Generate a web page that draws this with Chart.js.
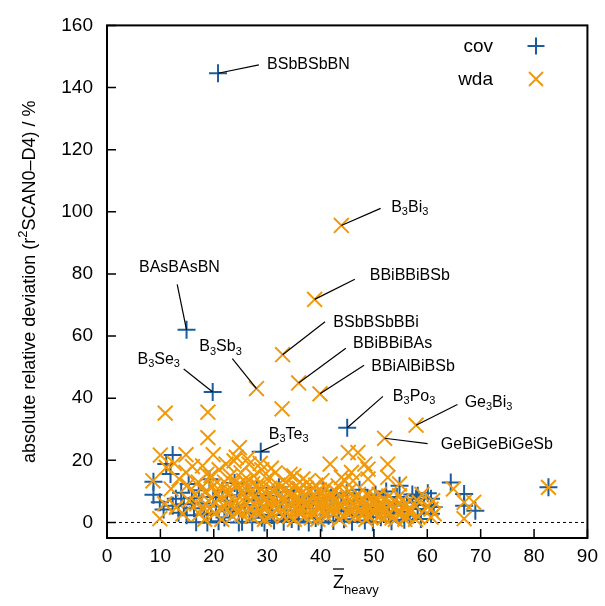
<!DOCTYPE html>
<html>
<head>
<meta charset="utf-8">
<script src="https://cdn.jsdelivr.net/npm/chart.js@4/dist/chart.umd.min.js"></script>
<style>
  body { margin: 0; background: #fff; }
  #wrap { width: 605px; height: 606px; }
</style>
</head>
<body>
<div id="wrap"><canvas id="chart" width="605" height="606"></canvas></div>
<script>
// Scatter of absolute relative deviation vs mean heavy-atom Z

const FONT = '"Liberation Sans", Arial, Helvetica, sans-serif';
const covColor = '#1a5c9e';
const wdaColor = '#f0990a';

const xTicks = [0, 10, 20, 30, 40, 50, 60, 70, 80, 90];
const yTicks = [0, 20, 40, 60, 80, 100, 120, 140, 160];

// [Z_heavy, deviation %]
const covPairs = [
    [20.8, 144.6], [14.9, 62.0], [19.8, 42.0], [45.0, 30.5], [28.8, 22.8], [82.7, 11.3],
    [8.7, 13.1], [8.7, 8.9], [9.9, 6.5], [10.6, 4.2], [11.1, 18.8], [12.3, 21.7], [11.9, 15.6],
    [12.3, 5.4], [12.9, 7.6], [13.4, 3.1], [13.9, 9.6], [14.4, 5.9], [14.9, 2.3], [15.3, 12.4],
    [15.9, 7.8], [16.3, 4.6], [16.7, 0.1], [17.2, 10.4], [17.7, 6.1], [18.2, 2.6], [18.8, 0.0],
    [19.2, 13.9], [19.5, 2.8], [19.9, 8.2], [20.4, 5.1], [20.9, 0.4], [21.6, 10.2], [22.0, 1.6],
    [22.5, 7.0], [23.0, 3.6], [23.5, 4.9], [23.9, 12.7], [24.4, 8.8], [24.7, 0.0], [25.3, 0.2],
    [25.8, 5.6], [26.2, 9.4], [26.7, 3.0], [27.2, 0.1], [27.6, 7.3], [28.1, 11.2], [28.5, 4.4],
    [29.0, 1.5], [29.5, 0.0], [29.9, 8.6], [30.4, 5.2], [30.9, 2.4], [31.3, 0.6], [31.8, 9.7],
    [32.2, 11.3], [32.7, 6.4], [33.1, 0.2], [33.6, 3.7], [34.1, 7.9], [34.6, 1.1], [35.0, 10.2],
    [35.4, 5.0], [35.9, 0.3], [36.4, 8.1], [36.8, 2.9], [37.3, 6.2], [37.8, 0.0], [38.1, 8.6],
    [38.6, 4.3], [39.1, 1.4], [39.6, 7.0], [40.2, 0.0], [40.5, 10.2], [41.0, 5.4], [41.5, 2.2],
    [42.0, 8.0], [42.4, 0.5], [43.0, 8.6], [43.4, 3.6], [43.9, 6.1], [44.4, 1.0], [44.9, 9.4],
    [45.4, 4.6], [45.9, 0.2], [46.4, 6.8], [46.9, 2.6], [47.3, 10.5], [47.8, 5.1], [48.3, 0.6],
    [48.8, 7.7], [49.3, 3.2], [49.8, 0.1], [50.3, 8.9], [50.8, 4.8], [51.3, 1.7], [51.8, 6.6],
    [52.3, 10.0], [52.8, 2.9], [53.3, 0.4], [53.8, 5.5], [54.3, 8.2], [54.8, 11.8], [55.2, 3.4],
    [55.7, 0.9], [56.2, 6.4], [56.7, 2.1], [57.2, 9.0], [57.9, 7.6], [58.2, 8.6], [58.2, 4.3],
    [58.8, 1.1], [59.4, 5.6], [60.1, 9.4], [60.7, 7.6], [60.7, 2.8], [61.2, 5.0], [64.4, 12.9],
    [66.9, 9.2], [66.9, 5.4], [69.0, 3.8]
];

const wdaPairs = [
    [43.9, 95.6], [38.9, 71.8], [32.9, 54.0], [35.9, 44.9], [39.9, 41.4], [28.0, 43.1],
    [57.9, 31.3], [52.0, 27.1], [82.7, 11.3], [10.9, 35.2], [18.9, 35.5], [18.9, 27.3],
    [32.8, 36.6], [24.8, 24.1], [45.2, 22.5], [47.0, 22.5],
    [8.6, 13.4], [9.9, 1.2], [10.0, 21.7], [10.8, 6.0], [11.1, 17.7], [12.0, 10.8], [12.6, 19.0],
    [13.0, 4.9], [13.5, 14.0], [14.2, 2.8], [14.8, 21.8], [14.8, 16.1], [15.4, 7.0], [15.1, 12.0],
    [16.0, 18.0], [16.5, 9.0], [16.8, 6.0], [17.3, 2.8], [17.6, 11.0], [17.9, 18.2], [17.1, 13.0],
    [18.0, 5.0], [18.3, 1.0], [18.5, 10.0], [18.7, 15.5], [19.3, 4.5], [19.5, 15.0], [19.7, 11.5],
    [19.9, 21.8], [19.0, 7.0], [20.1, 12.0], [20.2, 3.0], [20.3, 6.5], [20.6, 9.5], [21.0, 17.0],
    [21.1, 8.0], [21.3, 4.5], [21.5, 1.0], [21.8, 11.0], [22.3, 18.8], [22.0, 13.0], [22.1, 5.0],
    [22.6, 9.0], [22.8, 6.5], [23.0, 10.0], [23.1, 15.0], [23.3, 5.5], [23.5, 2.0], [23.7, 12.5],
    [23.8, 19.8], [24.0, 7.0], [24.2, 21.0], [24.3, 3.5], [24.5, 12.0], [24.6, 6.0], [25.0, 4.0],
    [25.1, 16.0], [25.3, 2.5], [25.5, 9.0], [25.6, 13.5], [25.8, 11.0], [26.0, 13.0], [26.1, 6.0],
    [26.3, 20.5], [26.4, 8.0], [26.6, 18.8], [26.8, 4.0], [27.0, 10.0], [27.1, 2.0], [27.3, 12.5],
    [27.5, 15.0], [27.7, 8.5], [27.8, 5.5], [28.0, 7.0], [28.1, 12.0], [28.3, 2.5], [28.5, 4.0],
    [28.7, 19.0], [28.9, 6.0], [29.0, 17.0], [29.1, 9.0], [29.3, 11.5], [29.5, 1.0], [29.6, 7.5],
    [29.8, 4.5], [30.0, 14.0], [30.1, 6.0], [30.3, 8.5], [30.5, 11.0], [30.7, 2.0], [30.8, 17.5],
    [31.0, 3.0], [31.1, 8.0], [31.3, 10.0], [31.5, 16.0], [31.6, 6.0], [31.8, 4.5], [32.0, 12.0],
    [32.1, 5.0], [32.3, 3.5], [32.5, 9.0], [32.8, 7.5], [33.0, 2.0], [33.1, 7.0], [33.3, 10.5],
    [33.5, 13.0], [33.7, 9.5], [33.8, 5.5], [34.0, 4.0], [34.1, 10.0], [34.2, 2.0], [34.3, 15.5],
    [34.5, 6.0], [34.7, 8.5], [35.0, 15.0], [35.1, 1.0], [35.2, 11.5], [35.5, 8.0], [35.7, 3.5],
    [35.8, 5.5], [36.0, 11.0], [36.1, 4.0], [36.3, 9.0], [36.5, 7.0], [36.7, 14.0], [36.8, 4.5],
    [37.0, 2.0], [37.1, 9.0], [37.3, 11.0], [37.5, 13.0], [37.7, 6.5], [37.9, 7.5], [38.0, 5.0],
    [38.1, 10.0], [38.3, 1.5], [38.5, 3.0], [38.8, 9.0], [39.0, 7.0], [39.1, 12.0], [39.3, 5.0],
    [39.5, 1.0], [39.7, 4.5], [39.8, 10.5], [40.0, 6.0], [40.1, 9.0], [40.3, 13.5], [40.4, 7.5],
    [40.5, 4.0], [40.8, 2.5], [41.0, 11.0], [41.1, 2.0], [41.3, 5.5], [41.5, 7.0], [41.7, 8.5],
    [41.8, 18.8], [41.9, 3.5], [42.0, 5.0], [42.1, 9.0], [42.3, 7.0], [42.5, 3.0], [42.8, 10.0],
    [43.0, 7.0], [43.2, 4.0], [43.3, 11.8], [43.5, 1.0], [43.7, 6.0], [43.8, 8.5], [43.9, 14.5],
    [44.0, 5.0], [44.2, 2.0], [44.6, 13.4], [44.8, 6.5], [45.0, 8.0], [45.1, 3.0], [45.3, 10.0],
    [45.6, 5.0], [45.8, 16.1], [45.9, 3.5], [46.0, 6.0], [46.1, 13.4], [46.3, 8.0], [46.5, 2.0],
    [46.8, 5.0], [47.1, 9.0], [47.3, 7.0], [47.5, 4.0], [47.7, 2.5], [47.9, 5.0], [48.0, 7.0],
    [48.3, 18.8], [48.3, 3.0], [48.5, 1.0], [48.7, 9.0], [48.9, 17.2], [48.9, 14.0], [49.0, 5.0],
    [49.2, 2.0], [49.5, 8.0], [49.7, 4.0], [49.8, 6.5], [50.0, 3.0], [50.1, 6.0], [50.4, 8.0],
    [50.7, 4.5], [51.0, 9.0], [51.1, 2.0], [51.3, 6.5], [51.5, 5.0], [51.7, 3.5], [51.9, 1.5],
    [52.0, 7.0], [52.3, 4.0], [52.6, 18.8], [52.6, 14.5], [52.8, 8.5], [53.0, 3.0], [53.1, 6.0],
    [53.4, 1.5], [53.7, 4.5], [53.9, 7.0], [54.0, 1.0], [54.1, 5.0], [54.4, 3.0], [54.8, 12.4],
    [54.8, 8.6], [55.0, 3.0], [55.3, 7.0], [55.6, 5.0], [55.8, 1.0], [56.0, 6.0], [56.1, 2.0],
    [56.5, 4.0], [57.0, 4.0], [57.4, 6.0], [57.8, 1.0], [58.2, 2.0], [58.5, 6.5], [59.0, 9.0],
    [60.0, 5.0], [60.7, 4.3], [60.7, 1.7], [61.3, 2.8], [61.0, 7.0], [64.9, 10.8], [66.9, 1.2],
    [66.9, 6.5], [68.7, 6.5]
];

// labelled outliers: name (_n = subscript), marker, line end, text anchor
const annotations = [
    { name: 'BSbBSbBN',     at: [20.8, 144.6], end: [28.45, 147.3], text: [29.99, 147.3] },
    { name: 'B_3Bi_3',      at: [43.9, 95.6],  end: [51.26, 101.1], text: [53.24, 101.4] },
    { name: 'BBiBBiBSb',    at: [38.9, 71.8],  end: [46.43, 78.3],  text: [49.22, 79.4] },
    { name: 'BSbBSbBBi',    at: [32.9, 54.0],  end: [40.85, 64.6],  text: [42.4, 64.3] },
    { name: 'BBiBBiBAs',    at: [35.9, 44.9],  end: [44.74, 56.1],  text: [46.1, 57.7] },
    { name: 'BBiAlBiBSb',   at: [39.9, 41.4],  end: [48.16, 50.6],  text: [49.5, 50.2] },
    { name: 'BAsBAsBN',     at: [14.9, 62.0],  end: [13.15, 76.6],  text: [13.57, 82.0], center: true },
    { name: 'B_3Se_3',      at: [19.8, 42.0],  end: [14.37, 49.4],  text: [5.71, 52.5] },
    { name: 'B_3Sb_3',      at: [28.0, 43.1],  end: [23.48, 52.7],  text: [17.29, 56.6] },
    { name: 'B_3Po_3',      at: [45.0, 30.5],  end: [51.69, 40.6],  text: [53.55, 40.6] },
    { name: 'Ge_3Bi_3',     at: [57.9, 31.3],  end: [65.64, 38.0],  text: [67.0, 38.7] },
    { name: 'GeBiGeBiGeSb', at: [52.0, 27.1],  end: [60.06, 25.4],  text: [62.53, 25.0] },
    { name: 'B_3Te_3',      at: [28.8, 22.8],  end: [32.17, 25.4],  text: [30.31, 28.4] }
];

function toPoints(pairs) {
    return pairs.map(p => ({ x: p[0], y: p[1] }));
}

// draw "B_3Bi_3" style text with subscripts
function richParts(str) {
    return str.split(/(_\d+)/).filter(s => s).map(s =>
        s[0] === '_' ? { t: s.slice(1), sub: true } : { t: s, sub: false });
}

function richWidth(ctx, parts) {
    let w = 0;
    parts.forEach(p => {
        ctx.font = (p.sub ? '11px ' : '16px ') + FONT;
        w += ctx.measureText(p.t).width;
    });
    return w;
}

function drawRich(ctx, str, x, y, center) {
    const parts = richParts(str);
    if (center) x -= richWidth(ctx, parts) / 2;
    ctx.textAlign = 'left';
    ctx.textBaseline = 'middle';
    parts.forEach(p => {
        ctx.font = (p.sub ? '11px ' : '16px ') + FONT;
        ctx.fillText(p.t, x, p.sub ? y + 5 : y);
        x += ctx.measureText(p.t).width;
    });
}

function drawPlus(ctx, x, y, r) {
    ctx.beginPath();
    ctx.moveTo(x - r, y); ctx.lineTo(x + r, y);
    ctx.moveTo(x, y - r); ctx.lineTo(x, y + r);
    ctx.stroke();
}

function drawCross(ctx, x, y, r) {
    ctx.beginPath();
    ctx.moveTo(x - r, y - r); ctx.lineTo(x + r, y + r);
    ctx.moveTo(x - r, y + r); ctx.lineTo(x + r, y - r);
    ctx.stroke();
}

const decorPlugin = {
    id: 'decor',
    beforeDatasetsDraw(chart) {
        const { ctx, scales: { x, y } } = chart;
        ctx.save();
        ctx.strokeStyle = '#000';
        ctx.lineWidth = 1;
        ctx.setLineDash([3, 3]);
        ctx.beginPath();
        ctx.moveTo(x.getPixelForValue(0), y.getPixelForValue(0));
        ctx.lineTo(x.getPixelForValue(90), y.getPixelForValue(0));
        ctx.stroke();
        ctx.restore();
    },
    afterDatasetsDraw(chart) {
        const { ctx, chartArea: a, scales: { x, y } } = chart;
        ctx.save();

        // annotation leaders and labels
        ctx.strokeStyle = '#000';
        ctx.fillStyle = '#000';
        ctx.lineWidth = 1.2;
        annotations.forEach(an => {
            ctx.beginPath();
            ctx.moveTo(x.getPixelForValue(an.at[0]), y.getPixelForValue(an.at[1]));
            ctx.lineTo(x.getPixelForValue(an.end[0]), y.getPixelForValue(an.end[1]));
            ctx.stroke();
            drawRich(ctx, an.name, x.getPixelForValue(an.text[0]), y.getPixelForValue(an.text[1]), an.center);
        });

        // frame and inward ticks
        ctx.lineWidth = 2;
        ctx.strokeRect(a.left, a.top, a.right - a.left, a.bottom - a.top);
        ctx.lineWidth = 1.5;
        ctx.beginPath();
        xTicks.forEach(v => {
            const px = x.getPixelForValue(v);
            ctx.moveTo(px, a.bottom); ctx.lineTo(px, a.bottom - 9);
        });
        yTicks.forEach(v => {
            const py = y.getPixelForValue(v);
            ctx.moveTo(a.left, py); ctx.lineTo(a.left + 9, py);
        });
        ctx.stroke();

        // legend
        ctx.font = '19px ' + FONT;
        ctx.textAlign = 'right';
        ctx.textBaseline = 'middle';
        ctx.fillText('cov', 493, 47);
        ctx.fillText('wda', 493, 80);
        ctx.lineWidth = 2;
        ctx.strokeStyle = covColor;
        drawPlus(ctx, 536, 46, 8.5);
        ctx.strokeStyle = wdaColor;
        drawCross(ctx, 536, 79, 7);

        // y title
        ctx.fillStyle = '#000';
        ctx.save();
        ctx.translate(30, (a.top + a.bottom) / 2);
        ctx.rotate(-Math.PI / 2);
        const t1 = 'absolute relative deviation (r', t2 = '2', t3 = 'SCAN0\u2013D4) / %';
        ctx.font = '18px ' + FONT;
        const w1 = ctx.measureText(t1).width, w3 = ctx.measureText(t3).width;
        ctx.font = '13px ' + FONT;
        const w2 = ctx.measureText(t2).width;
        let sx = -(w1 + w2 + w3) / 2;
        ctx.textAlign = 'left';
        ctx.font = '18px ' + FONT;
        ctx.fillText(t1, sx, 0); sx += w1;
        ctx.font = '13px ' + FONT;
        ctx.fillText(t2, sx, -7); sx += w2;
        ctx.font = '18px ' + FONT;
        ctx.fillText(t3, sx, 0);
        ctx.restore();

        // x title: Z-bar with subscript "heavy"
        ctx.font = '18px ' + FONT;
        const zw = ctx.measureText('Z').width;
        ctx.font = '13px ' + FONT;
        const hw = ctx.measureText('heavy').width;
        let zx = 333;
        ctx.textAlign = 'left';
        ctx.font = '18px ' + FONT;
        ctx.fillText('Z', zx, 583);
        ctx.lineWidth = 1.3;
        ctx.strokeStyle = '#000';
        ctx.beginPath();
        ctx.moveTo(zx, 569); ctx.lineTo(zx + zw, 569);
        ctx.stroke();
        ctx.font = '13px ' + FONT;
        ctx.fillText('heavy', zx + zw, 590);

        ctx.restore();
    }
};

const ctx = document.getElementById('chart').getContext('2d');
new Chart(ctx, {
    type: 'scatter',
    data: {
        datasets: [
            {
                label: 'cov',
                data: toPoints(covPairs),
                pointStyle: 'cross',
                pointRadius: 9,
                pointHoverRadius: 9,
                pointBorderWidth: 2,
                borderColor: covColor,
                backgroundColor: covColor,
                order: 2
            },
            {
                label: 'wda',
                data: toPoints(wdaPairs),
                pointStyle: 'crossRot',
                pointRadius: 10.5,
                pointHoverRadius: 10.5,
                pointBorderWidth: 2,
                borderColor: wdaColor,
                backgroundColor: wdaColor,
                order: 1
            }
        ]
    },
    options: {
        responsive: false,
        animation: false,
        layout: { padding: { left: 0, right: 14, top: 22, bottom: 0 } },
        plugins: {
            legend: { display: false },
            tooltip: { enabled: false }
        },
        scales: {
            x: {
                type: 'linear',
                min: 0,
                max: 90,
                afterBuildTicks: s => { s.ticks = xTicks.map(v => ({ value: v })); },
                afterFit: s => { s.height = 68; },
                grid: { display: false, drawTicks: false },
                border: { display: false },
                ticks: { color: '#000', font: { family: FONT, size: 19 }, padding: 7, maxRotation: 0 }
            },
            y: {
                type: 'linear',
                min: -5,
                max: 160,
                afterBuildTicks: s => { s.ticks = yTicks.map(v => ({ value: v })); },
                afterFit: s => { s.width = 107; },
                grid: { display: false, drawTicks: false },
                border: { display: false },
                ticks: { color: '#000', font: { family: FONT, size: 19 }, padding: 14 }
            }
        }
    },
    plugins: [decorPlugin]
});
</script>
</body>
</html>
